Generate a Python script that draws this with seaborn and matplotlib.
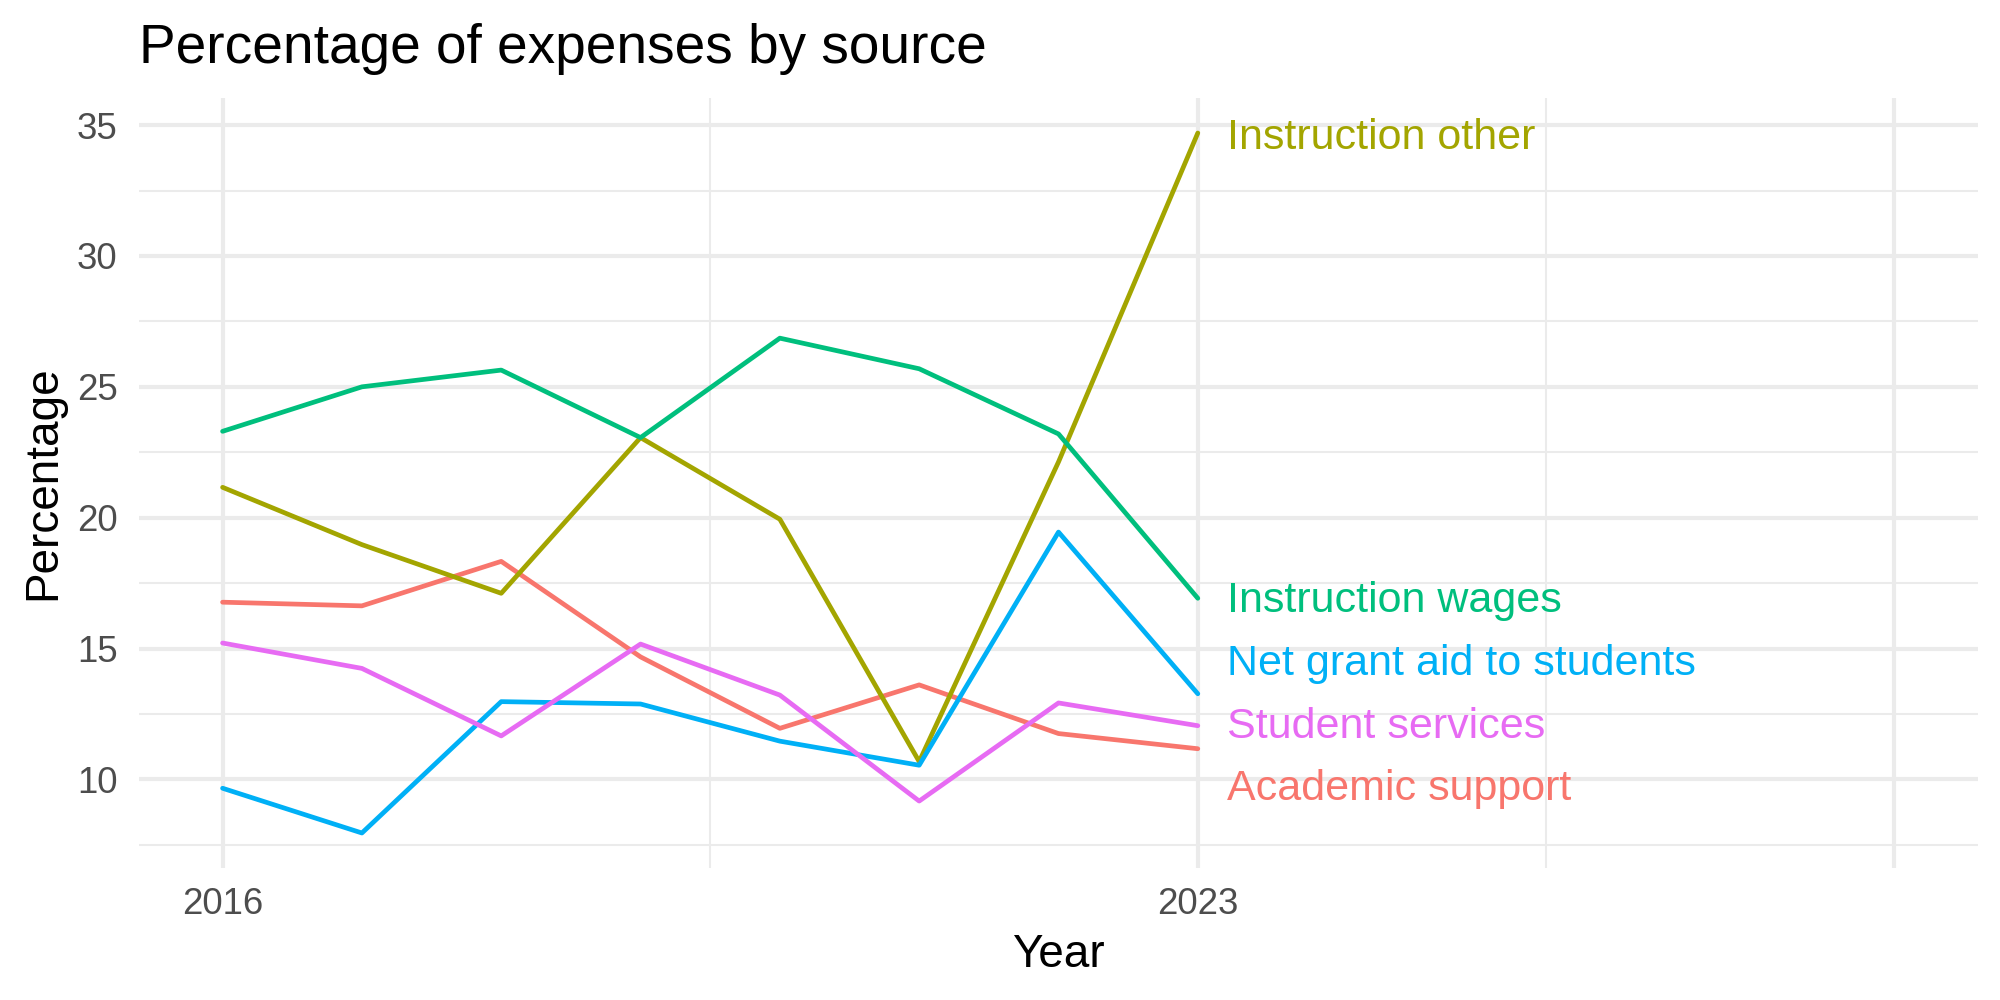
import pandas as pd
import seaborn as sns
import matplotlib.pyplot as plt
from matplotlib.ticker import FixedLocator
from matplotlib.transforms import offset_copy

# data
years = [2016, 2017, 2018, 2019, 2020, 2021, 2022, 2023]
academic_support = [16.77, 16.63, 18.33, 14.68, 11.95, 13.61, 11.75, 11.17]
instruction_other = [21.16, 18.97, 17.11, 23.06, 19.94, 10.68, 22.13, 34.70]
instruction_wages = [23.30, 25.00, 25.64, 23.06, 26.86, 25.69, 23.20, 16.92]
net_grant_aid = [9.66, 7.95, 12.97, 12.88, 11.46, 10.54, 19.45, 13.27]
student_services = [15.21, 14.24, 11.66, 15.17, 13.22, 9.17, 12.92, 12.05]

sources = ['Academic support', 'Instruction other', 'Instruction wages',
           'Net grant aid to students', 'Student services']
colors = ['#F8766D', '#A3A500', '#00BF7D', '#00B0F6', '#E76BF3']
# label positions (repelled) at the right end
label_y = [9.80, 34.70, 17.00, 14.58, 12.18]

x_breaks = [2016, 2023, 2028]
x_labels = ['2016', '2023', '']
x_minor = [2019.5, 2025.5]
y_breaks = [10, 15, 20, 25, 30, 35]
y_minor = [7.5, 12.5, 17.5, 22.5, 27.5, 32.5]

series = [academic_support, instruction_other, instruction_wages,
          net_grant_aid, student_services]
df = pd.DataFrame({
    'Year': years * len(sources),
    'Percentage': sum(series, []),
    'Source': [s for s in sources for _ in years],
})

sns.set_theme(style='white')
plt.rcParams['font.family'] = ['Liberation Sans', 'DejaVu Sans']

fig, ax = plt.subplots(figsize=(20, 10), dpi=100)
fig.subplots_adjust(left=0.0695, right=0.989, top=0.902, bottom=0.132)

palette = dict(zip(sources, colors))
sns.lineplot(data=df, x='Year', y='Percentage', hue='Source',
             hue_order=sources, palette=palette, linewidth=3.4,
             legend=False, ax=ax, zorder=3)

# ggplot style expansion (5%)
xlo, xhi = min(x_breaks), max(x_breaks)
ylo, yhi = df['Percentage'].min(), df['Percentage'].max()
ax.set_xlim(xlo - 0.05 * (xhi - xlo), xhi + 0.05 * (xhi - xlo))
ax.set_ylim(ylo - 0.05 * (yhi - ylo), yhi + 0.05 * (yhi - ylo))

ax.xaxis.set_major_locator(FixedLocator(x_breaks))
ax.set_xticklabels(x_labels)
ax.xaxis.set_minor_locator(FixedLocator(x_minor))
ax.yaxis.set_major_locator(FixedLocator(y_breaks))
ax.yaxis.set_minor_locator(FixedLocator(y_minor))
ax.grid(which='major', color='#EBEBEB', linewidth=3.0)
ax.grid(which='minor', color='#EBEBEB', linewidth=1.5)
ax.set_axisbelow(True)
for sp in ax.spines.values():
    sp.set_visible(False)
ax.tick_params(which='both', length=0)
ax.tick_params(axis='x', labelsize=26.4, labelcolor='#4D4D4D', pad=13.5)
ax.tick_params(axis='y', labelsize=26.4, labelcolor='#4D4D4D', pad=15.5)

ax.set_xlabel('Year', fontsize=33, color='black', labelpad=8)
ax.set_ylabel('Percentage', fontsize=33, color='black', labelpad=8.5)
ax.set_title('Percentage of expenses by source', fontsize=39.6,
             loc='left', pad=25, color='black')

# end labels, vertically centred on cap height
lab_tr = offset_copy(ax.transData, fig=fig, x=0, y=-11.3, units='points')
for name, col, yv in zip(sources, colors, label_y):
    ax.text(years[-1] + 0.21, yv, name, color=col, fontsize=31,
            ha='left', va='baseline', transform=lab_tr)

plt.savefig('out.png', dpi=100)
plt.close()
